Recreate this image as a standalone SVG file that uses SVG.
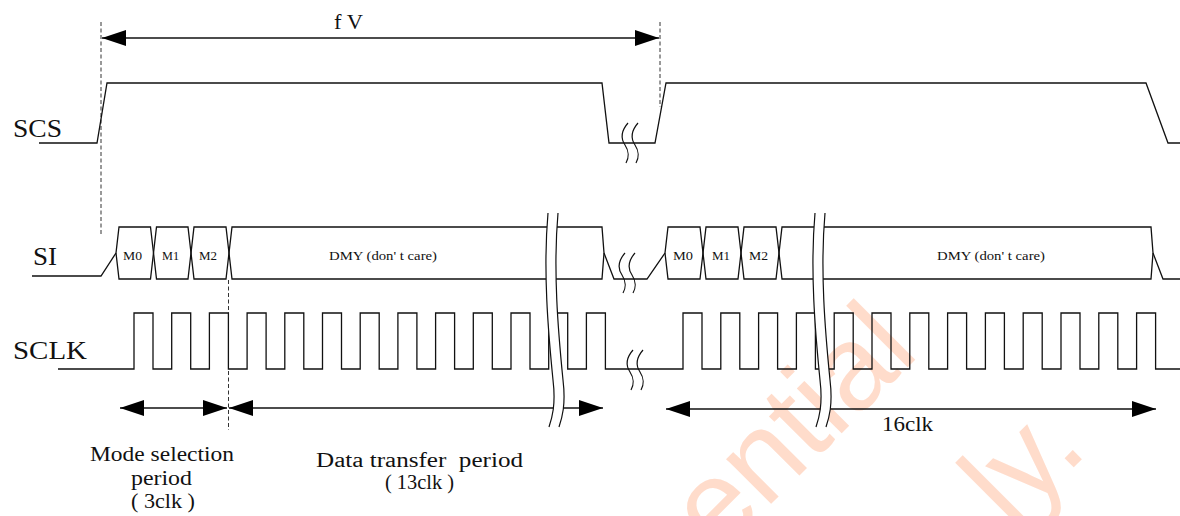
<svg xmlns="http://www.w3.org/2000/svg" xmlns:xlink="http://www.w3.org/1999/xlink" width="1180" height="516" viewBox="0 0 1180 516">
<style>
.w{fill:none;stroke:#111;stroke-width:1.3;stroke-linejoin:miter}
.d{fill:none;stroke:#333;stroke-width:1;stroke-dasharray:4,2.5}
.a{fill:none;stroke:#111;stroke-width:1.3}
.t{font-family:"Liberation Serif","Times New Roman",serif;fill:#111}
.sig{font-size:26px}
.sm{font-size:13px}
.lb{font-size:20px;white-space:pre}
.wm{font-family:"Liberation Sans",Arial,sans-serif;font-size:120px;fill:#FFDCCB}
.brk{fill:none;stroke:#111;stroke-width:1.2}
</style>
<defs>
<marker id="ah" viewBox="0 0 24 16" refX="24" refY="8" markerWidth="24" markerHeight="16" markerUnits="userSpaceOnUse" orient="auto-start-reverse">
<path d="M0,0 L24,8 L0,16 z" fill="#000"/>
</marker>
<path id="sb" d="M4,0 C-3,8 -3,16 1,22 C5,28 5,35 2,40"/>
</defs>

<g id="watermark">
<text class="wm" transform="translate(718,557) rotate(-45)">ential</text>
<text class="wm" transform="translate(1011,530) rotate(-45)">ly.</text>
</g>

<g id="labels">
<text class="t sig" x="13" y="137" textLength="49" lengthAdjust="spacingAndGlyphs">SCS</text>
<text class="t sig" x="33" y="265" textLength="24" lengthAdjust="spacingAndGlyphs">SI</text>
<text class="t sig" x="13" y="359" textLength="74" lengthAdjust="spacingAndGlyphs">SCLK</text>
</g>

<g id="connectors">
<line class="d" x1="101" y1="22" x2="101" y2="235"/>
<line class="d" x1="660" y1="22" x2="660" y2="107"/>
<line class="d" x1="228.5" y1="280" x2="228.5" y2="430"/>
<line class="a" x1="102" y1="38" x2="659" y2="38" marker-start="url(#ah)" marker-end="url(#ah)"/>
<line class="a" x1="120" y1="408" x2="227" y2="408" marker-start="url(#ah)" marker-end="url(#ah)"/>
<line class="a" x1="229" y1="408" x2="603" y2="408" marker-start="url(#ah)" marker-end="url(#ah)"/>
<line class="a" x1="666" y1="409" x2="1156" y2="409" marker-start="url(#ah)" marker-end="url(#ah)"/>
</g>

<g id="fv-label"><text class="t" style="font-size:20px" x="334" y="29" textLength="29" lengthAdjust="spacingAndGlyphs">f V</text></g>

<g id="scs">
<path class="w" d="M39,143 L97,143 L107,83 L602,83 L609,143 L655,143 L666,83 L1146,83 L1168,143 L1180,143"/>
<use href="#sb" class="brk" x="624" y="123"/>
<use href="#sb" class="brk" x="634" y="123"/>
</g>

<g id="si">
<path class="w" d="M32,276 L101,276 L116,253"/>
<g id="si-m0"><polygon class="w" points="116,253 119,227 150.5,227 153.5,253 150.5,279 119,279"/><text class="t sm" x="123" y="260" textLength="19" lengthAdjust="spacingAndGlyphs">M0</text></g>
<g id="si-m1"><polygon class="w" points="153.5,253 156.5,227 188,227 191,253 188,279 156.5,279"/><text class="t sm" x="162" y="260" textLength="17" lengthAdjust="spacingAndGlyphs">M1</text></g>
<g id="si-m2"><polygon class="w" points="191,253 194,227 226,227 229,253 226,279 194,279"/><text class="t sm" x="199" y="260" textLength="18" lengthAdjust="spacingAndGlyphs">M2</text></g>
<g id="si-dmy1"><polygon class="w" points="229,253 232,227 602,227 604,253 602,279 232,279"/><text class="t sm" x="329" y="260" textLength="108" lengthAdjust="spacingAndGlyphs">DMY (don' t care)</text></g>
<path class="w" d="M604,253 L614,279 L647,279 L665,253"/>
<use href="#sb" class="brk" x="621" y="253"/>
<use href="#sb" class="brk" x="631" y="253"/>
<g id="si-m0b"><polygon class="w" points="665,253 668,227 700,227 703,253 700,279 668,279"/><text class="t sm" x="673" y="260" textLength="20" lengthAdjust="spacingAndGlyphs">M0</text></g>
<g id="si-m1b"><polygon class="w" points="703,253 706,227 738,227 741,253 738,279 706,279"/><text class="t sm" x="712" y="260" textLength="18" lengthAdjust="spacingAndGlyphs">M1</text></g>
<g id="si-m2b"><polygon class="w" points="741,253 744,227 776,227 779,253 776,279 744,279"/><text class="t sm" x="749" y="260" textLength="19" lengthAdjust="spacingAndGlyphs">M2</text></g>
<g id="si-dmy2"><polygon class="w" points="779,253 782,227 1151,227 1153,253 1151,279 782,279"/><text class="t sm" x="937" y="260" textLength="108" lengthAdjust="spacingAndGlyphs">DMY (don' t care)</text></g>
<path class="w" d="M1153,253 L1163,279 L1180,279"/>
</g>

<g id="sclk">
<path class="w" d="M58,369 L134,369 L134,313 L153,313 L153,369 L171.7,369 L171.7,313 L190.7,313 L190.7,369 L209.4,369 L209.4,313 L228.4,313 L228.4,369 L247.1,369 L247.1,313 L266.1,313 L266.1,369 L284.8,369 L284.8,313 L303.8,313 L303.8,369 L322.5,369 L322.5,313 L341.5,313 L341.5,369 L360.2,369 L360.2,313 L379.2,313 L379.2,369 L397.9,369 L397.9,313 L416.9,313 L416.9,369 L435.6,369 L435.6,313 L454.6,313 L454.6,369 L473.3,369 L473.3,313 L492.3,313 L492.3,369 L511,369 L511,313 L530,313 L530,369 L548.7,369 L548.7,313 L567.7,313 L567.7,369 L586.4,369 L586.4,313 L605.4,313 L605.4,369 L683,369 L683,313 L702,313 L702,369 L720.8,369 L720.8,313 L739.8,313 L739.8,369 L758.6,369 L758.6,313 L777.6,313 L777.6,369 L796.4,369 L796.4,313 L815.4,313 L815.4,369 L834.2,369 L834.2,313 L853.2,313 L853.2,369 L872,369 L872,313 L891,313 L891,369 L909.8,369 L909.8,313 L928.8,313 L928.8,369 L947.6,369 L947.6,313 L966.6,313 L966.6,369 L985.4,369 L985.4,313 L1004.4,313 L1004.4,369 L1023.2,369 L1023.2,313 L1042.2,313 L1042.2,369 L1061,369 L1061,313 L1080,313 L1080,369 L1098.8,369 L1098.8,313 L1117.8,313 L1117.8,369 L1136.6,369 L1136.6,313 L1155.6,313 L1155.6,369 L1180,369"/>
<use href="#sb" class="brk" x="629" y="350"/>
<use href="#sb" class="brk" x="639" y="350"/>
</g>

<g id="breaks">
<path d="M548,213 C543,270 548,330 553,380 C556,405 552,418 549,427 L559,427 C562,418 566,405 563,380 C558,330 553,270 558,213 Z" fill="#fff" stroke="none"/>
<path class="brk" d="M548,213 C543,270 548,330 553,380 C556,405 552,418 549,427"/>
<path class="brk" d="M558,213 C553,270 558,330 563,380 C566,405 562,418 559,427"/>
<path d="M815,213 C810,270 815,330 820,380 C823,405 819,418 816,427 L826,427 C829,418 833,405 830,380 C825,330 820,270 825,213 Z" fill="#fff" stroke="none"/>
<path class="brk" d="M815,213 C810,270 815,330 820,380 C823,405 819,418 816,427"/>
<path class="brk" d="M825,213 C820,270 825,330 830,380 C833,405 829,418 826,427"/>
</g>

<g id="period-labels">
<text class="t lb" x="90" y="461" textLength="144" lengthAdjust="spacingAndGlyphs">Mode selection</text>
<text class="t lb" x="131" y="485" textLength="61" lengthAdjust="spacingAndGlyphs">period</text>
<text class="t lb" x="131" y="508" textLength="64" lengthAdjust="spacingAndGlyphs">( 3clk )</text>
<text class="t lb" x="316" y="467" textLength="207" lengthAdjust="spacingAndGlyphs">Data transfer  period</text>
<text class="t lb" x="385" y="489" textLength="69" lengthAdjust="spacingAndGlyphs">( 13clk )</text>
<text class="t lb" x="882" y="431" textLength="51" lengthAdjust="spacingAndGlyphs">16clk</text>
</g>
</svg>
